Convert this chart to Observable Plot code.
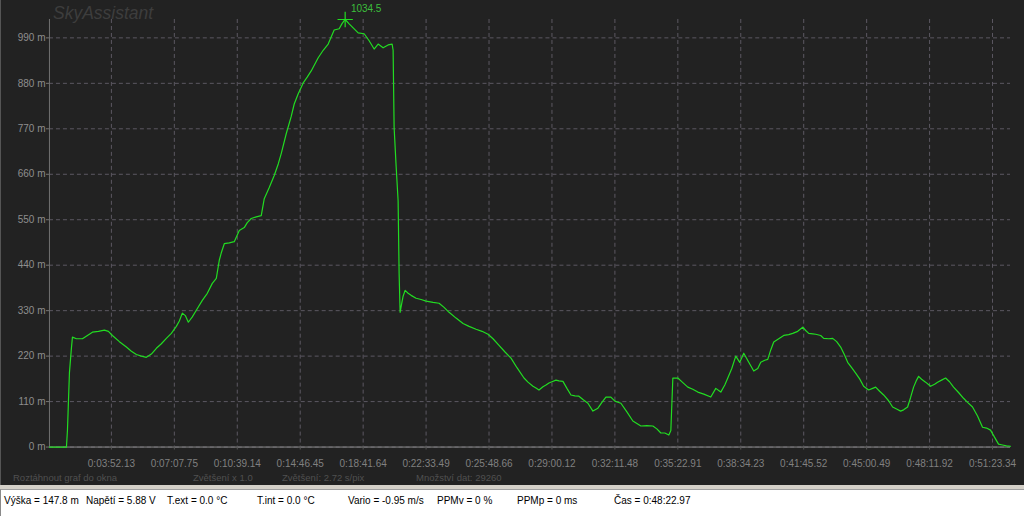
<!DOCTYPE html>
<html>
<head>
<meta charset="utf-8">
<script src="https://cdn.jsdelivr.net/npm/d3@7"></script>
<script src="https://cdn.jsdelivr.net/npm/@observablehq/plot@0.6"></script>
<style>
  html, body { margin: 0; padding: 0; background: #d4d0c8; }
  #wrap { position: relative; width: 1024px; height: 516px; overflow: hidden; font-family: "Liberation Sans", Arial, sans-serif; }
  #panel { position: absolute; left: 0; top: 0; width: 1024px; height: 485px; background: #222222; border-left: 1px solid #555; box-sizing: border-box; }
  #panel svg { position: absolute; left: 0; top: 0; }
  .title { position: absolute; left: 52px; top: 3px; font-size: 17.5px; font-style: italic; color: #3d3d3d; }
  .dim { position: absolute; top: 472px; font-size: 9.5px; color: #505050; white-space: nowrap; }
  #status { position: absolute; left: 0; top: 489px; width: 1024px; height: 27px; background: #ffffff; border-left: 1px solid #8a8a8a; border-top: 1px solid #a0a0a0; box-sizing: border-box; }
  #status span { position: absolute; top: 5px; font-size: 10px; color: #000; white-space: nowrap; }
</style>
</head>
<body>
<div id="wrap">
  <div id="panel"></div>
  <div id="status"></div>
</div>
<script>
// Sample number (horizontal position in the recording) and altitude in metres
const sample = [0,17,18,19,20,22,23,27,33,38,43,49,55,59,63,70,77,82,87,92,97,102,107,112,117,122,127,130,133,136,139,143,147,153,158,163,167,170,172,175,180,185,190,195,198,202,207,212,215,220,225,229,232,237,242,245,249,254,258,262,269,274,279,285,290,293,296,300,304,309,315,320,325,329,334,339,343,344,345,347,349,350,351,352,354,356,359,362,367,372,377,384,390,395,400,407,414,420,427,433,439,444,450,456,462,468,475,479,484,487,490,494,497,500,503,507,510,514,518,522,526,530,534,539,544,549,553,557,562,566,572,578,584,588,592,598,604,608,612,616,620,622,624,629,634,639,644,649,655,662,667,672,676,679,683,687,691,695,700,705,709,712,716,719,722,725,730,735,740,744,749,754,757,760,764,767,772,775,780,784,788,792,796,799,803,807,811,815,820,824,827,831,835,840,844,848,852,855,859,862,865,868,870,873,877,882,886,889,893,897,901,905,910,915,919,924,929,934,938,942,946,950,954,958,962];
const altitude = [0,0,40,110,180,240,266,262,262,270,278,280,283,280,270,255,242,232,224,220,217,225,239,250,263,275,292,305,324,318,302,315,331,355,372,396,408,452,470,492,494,497,524,531,543,553,557,560,601,628,657,685,710,758,800,830,855,881,895,910,942,960,975,1009,1012,1025,1034.5,1024,1014,1002,1000,983,963,975,966,973,975,960,773,680,596,420,326,340,365,379,372,367,360,357,353,350,348,338,326,312,299,292,285,280,273,262,246,230,215,192,167,157,147,143,138,146,150,155,158,162,160,159,142,126,124,123,115,106,87,94,108,121,121,111,106,85,63,57,51,52,51,44,34,34,29,40,167,167,156,145,140,133,128,121,142,133,150,167,190,220,205,227,205,184,190,205,210,212,235,254,262,270,272,275,280,290,282,275,274,273,270,263,262,263,255,242,222,205,192,179,165,147,138,142,145,135,126,112,97,92,87,90,97,120,145,162,171,164,157,147,152,157,162,167,158,145,132,118,108,97,75,48,46,41,24,7,5,3,2];

// Axis ticks
const yTicks = [0, 110, 220, 330, 440, 550, 660, 770, 880, 990];
const xTickSamples = [62, 125, 188, 251, 314, 377, 440, 503, 566, 629, 692, 755, 818, 881, 944];
const xTickLabels = ["0:03:52.13","0:07:07.75","0:10:39.14","0:14:46.45","0:18:41.64","0:22:33.49","0:25:48.66","0:29:00.12","0:32:11.48","0:35:22.91","0:38:34.23","0:41:45.52","0:45:00.49","0:48:11.92","0:51:23.34"];

const peakValue = 1034.5;
const title = "SkyAssistant";
const footerNotes = ["Roztáhnout graf do okna", "Zvětšení x 1.0", "Zvětšení: 2.72 s/pix", "Množství dat: 29260"];
const statusItems = ["Výška = 147.8 m", "Napětí = 5.88 V", "T.ext = 0.0 °C", "T.int = 0.0 °C", "Vario = -0.95 m/s", "PPMv = 0 %", "PPMp = 0 ms", "Čas = 0:48:22.97"];

const data = sample.map((s, i) => ({s, alt: altitude[i]}));
const peak = data.find(d => d.alt === peakValue);

const green = "#22dc22";
const gridColor = "#5c5862";

const chart = Plot.plot({
  width: 1024,
  height: 485,
  marginLeft: 48,
  marginRight: 14,
  marginTop: 19,
  marginBottom: 38,
  style: {background: "transparent", color: "#8e8e8e", fontFamily: "'Liberation Sans', Arial, sans-serif", fontSize: "10px"},
  x: {domain: [0, 962]},
  y: {domain: [0, peakValue]},
  marks: [
    Plot.gridY(yTicks, {stroke: gridColor, strokeOpacity: 1, strokeDasharray: "4,3"}),
    Plot.gridX(xTickSamples, {stroke: gridColor, strokeOpacity: 1, strokeDasharray: "4,3"}),
    Plot.ruleX([0], {stroke: "#707070"}),
    Plot.ruleY([0], {stroke: "#8a8a8a"}),
    Plot.axisY({ticks: yTicks, tickFormat: d => `${d} m`, tickSize: 3, tickPadding: 1, label: null, stroke: "#777"}),
    Plot.axisX({ticks: xTickSamples, tickFormat: d => xTickLabels[xTickSamples.indexOf(d)], tickSize: 3, tickPadding: 10, label: null, stroke: "#555", fill: "#808080"}),
    Plot.line(data, {x: "s", y: "alt", stroke: green, strokeWidth: 1.2}),
    Plot.dot([peak], {x: "s", y: "alt", symbol: "plus", r: 5, stroke: green, strokeWidth: 1.2}),
    Plot.text([peak], {x: "s", y: "alt", text: d => String(d.alt), fill: "#3cbf3c", fontSize: 10, dx: 21, dy: -11})
  ]
});

const panel = document.getElementById("panel");
panel.appendChild(chart);

const t = document.createElement("div");
t.className = "title";
t.textContent = title;
panel.appendChild(t);

const noteLeft = [12, 192, 281, 415];
footerNotes.forEach((n, i) => {
  const d = document.createElement("div");
  d.className = "dim";
  d.style.left = noteLeft[i] + "px";
  d.textContent = n;
  panel.appendChild(d);
});

const statusLeft = [3, 85, 166, 256, 347, 436, 516, 613];
const status = document.getElementById("status");
statusItems.forEach((s, i) => {
  const sp = document.createElement("span");
  sp.style.left = statusLeft[i] + "px";
  sp.textContent = s;
  status.appendChild(sp);
});
</script>
</body>
</html>
